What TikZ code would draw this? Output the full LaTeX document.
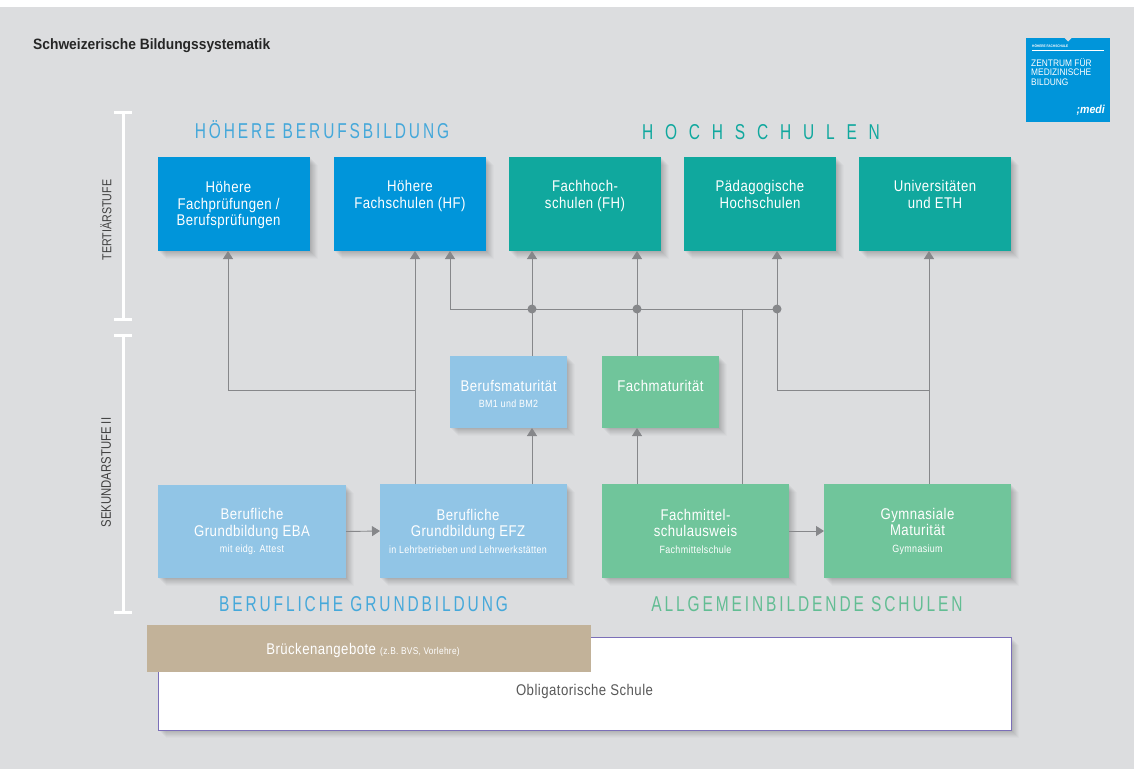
\documentclass[tikz,border=0pt]{standalone}
\usepackage{fontspec}
\usetikzlibrary{shadows,arrows.meta,calc}
\setmainfont{Liberation Sans}[FakeStretch=0.85,LetterSpace=3]
\newfontfamily\widefont{Liberation Sans}[FakeStretch=0.72,LetterSpace=13.5]
\newfontfamily\hochfont{Liberation Sans}[FakeStretch=0.72,LetterSpace=55]
\newfontfamily\boldfont{Liberation Sans Bold}[FakeStretch=0.92]
\newfontfamily\logofont{Liberation Sans}[FakeStretch=0.88]
\newfontfamily\sidefont{Liberation Sans}[FakeStretch=0.82]
\definecolor{bgc}{HTML}{DCDDDF}
\definecolor{blu}{HTML}{0095DA}
\definecolor{tea}{HTML}{10A89E}
\definecolor{lbl}{HTML}{91C5E6}
\definecolor{grn}{HTML}{70C59B}
\definecolor{tan}{HTML}{C2B299}
\definecolor{lin}{HTML}{86878A}
\definecolor{pur}{HTML}{7B6FB8}
\definecolor{ttl}{HTML}{45A8DA}
\definecolor{gtl}{HTML}{62BD93}
\tikzset{
 softshadow/.style={
  general shadow={fill=black,opacity=.03,shadow xshift=1pt,shadow yshift=-1pt},
  general shadow={fill=black,opacity=.03,shadow xshift=2pt,shadow yshift=-2pt},
  general shadow={fill=black,opacity=.03,shadow xshift=3pt,shadow yshift=-3pt},
  general shadow={fill=black,opacity=.03,shadow xshift=4pt,shadow yshift=-4pt},
  general shadow={fill=black,opacity=.03,shadow xshift=5pt,shadow yshift=-5pt},
  general shadow={fill=black,opacity=.025,shadow xshift=6pt,shadow yshift=-6pt},
  general shadow={fill=black,opacity=.02,shadow xshift=7pt,shadow yshift=-7pt},
  general shadow={fill=black,opacity=.015,shadow xshift=8pt,shadow yshift=-8pt}},
 box/.style={rectangle,outer sep=0pt,inner sep=0pt,align=center,text=white,
   softshadow,font=\fontsize{15.5}{16.5}\selectfont},
 conn/.style={draw=lin,line width=.9pt},
 arr/.style={conn,-{Triangle[length=8pt,width=10pt]}},
 dotn/.style={circle,fill=lin,inner sep=0pt,minimum size=9pt,outer sep=0pt},
 bar/.style={draw=white,line width=3pt},
 title/.style={inner sep=0pt,font=\widefont\fontsize{21.5}{24}\selectfont},
 side/.style={rotate=90,inner sep=0pt,text=black!75,font=\sidefont\fontsize{13}{15}\selectfont},
}
\newcommand{\sm}[1]{{\fontsize{10.5}{16.5}\selectfont #1}}
\newcommand{\up}{\rule{0pt}{13.5pt}}
\newcommand{\lf}[1]{\hspace*{-#1}}
\begin{document}
\begin{tikzpicture}[x=1pt,y=-1pt]
\useasboundingbox (0,0) rectangle (1134,769);
\fill[white] (0,0) rectangle (1134,769);
\fill[bgc] (0,7) rectangle (1134,769);
\node[anchor=west,inner sep=0pt,text=black!85,font=\boldfont\fontsize{15}{17}\selectfont] (head) at (33,45.5) {Schweizerische Bildungssystematik};
% logo
\node[rectangle,fill=blu,outer sep=0pt,inner sep=0pt,minimum width=84pt,minimum height=84pt] (logo) at (1068,80) {};
\fill[bgc] (1064.5,38) -- (1071.5,38) -- (1068,41.5) -- cycle;
\draw[white,line width=.8pt] (1032,50) -- (1104,50);
\node[anchor=west,inner sep=0pt,text=white,font=\logofont\bfseries\fontsize{3.6}{4}\selectfont] (lg1) at (1032,46) {HÖHERE FACHSCHULE};
\node[anchor=north west,inner sep=0pt,align=left,text=white,font=\logofont\fontsize{9.5}{9.5}\selectfont] (lg2) at (1031,58) {ZENTRUM FÜR\\MEDIZINISCHE\\BILDUNG};
\node[anchor=east,inner sep=0pt,text=white,font=\boldfont\itshape\fontsize{11.5}{13}\selectfont] (lg3) at (1105,110) {;medi};
% side bars
\coordinate (t1) at (123,112); \coordinate (t2) at (123,319);
\coordinate (s1) at (123,335); \coordinate (s2) at (123,612);
\draw[bar] (t1) -- (t2);
\draw[bar] (s1) -- (s2);
\foreach \p in {t1,t2,s1,s2} \draw[bar] ($(\p)+(-9,0)$) -- ($(\p)+(9,0)$);
\node[side] (ter) at (106,220) {TERTIÄRSTUFE};
\node[side,font=\sidefont\fontsize{13.8}{15}\selectfont] (sek) at (106,472.5) {SEKUNDARSTUFE II};
% titles
\node[title,text=ttl] (th) at (322,130) {HÖHERE BERUFSBILDUNG};
\node[title,text=tea] (tc) at (761,132) {\hochfont HOCHSCHULEN};
\node[title,text=ttl] (tb) at (363.5,604.5) {BERUFLICHE GRUNDBILDUNG};
\node[title,text=gtl] (ta) at (807,604) {ALLGEMEINBILDENDE SCHULEN};
% boxes
\node[box,fill=blu,minimum width=152pt,minimum height=94pt] (hfp) at (234,204) {\up\lf{11pt}Höhere\\\lf{11pt}Fachprüfungen /\\\lf{11pt}Berufsprüfungen};
\node[box,fill=blu,minimum width=152pt,minimum height=94pt] (hfs) at (410,204) {\up Höhere\\Fachschulen (HF)\\\strut};
\node[box,fill=tea,minimum width=152pt,minimum height=94pt] (fh) at (585,204) {\up Fachhoch-\\schulen (FH)\\\strut};
\node[box,fill=tea,minimum width=152pt,minimum height=94pt] (ph) at (760,204) {\up Pädagogische\\Hochschulen\\\strut};
\node[box,fill=tea,minimum width=152pt,minimum height=94pt] (uni) at (935,204) {\up Universitäten\\und ETH\\\strut};
\node[box,fill=lbl,minimum width=117pt,minimum height=72pt] (bm) at (508.5,392) {\rule{0pt}{15.5pt}Berufsmaturität\\\sm{BM1 und BM2}};
\node[box,fill=grn,minimum width=117pt,minimum height=72pt] (fm) at (660.5,392) {\rule{0pt}{15.5pt}Fachmaturität\\\sm{\ }};
\node[box,fill=lbl,minimum width=188pt,minimum height=93pt] (eba) at (252,531.5) {Berufliche\\Grundbildung EBA\\\sm{mit eidg. Attest}};
\node[box,fill=lbl,minimum width=187pt,minimum height=94pt] (efz) at (473.5,531) {\lf{11pt}Berufliche\\\lf{11pt}Grundbildung EFZ\\\lf{11pt}\sm{in Lehrbetrieben und Lehrwerkstätten}};
\node[box,fill=grn,minimum width=187pt,minimum height=94pt] (fms) at (695.5,531) {Fachmittel-\\schulausweis\\\sm{Fachmittelschule}};
\node[box,fill=grn,minimum width=187pt,minimum height=94pt] (gym) at (917.5,531) {Gymnasiale\\Maturität\\\sm{Gymnasium}};
\node[box,fill=white,draw=pur,line width=1pt,text=black!65,minimum width=853pt,minimum height=93pt] (obl) at (584.5,683.5) {\raisebox{-11.5pt}[0pt][0pt]{Obligatorische Schule}};
\node[rectangle,fill=tan,outer sep=0pt,inner sep=0pt,text=white,minimum width=444pt,minimum height=47pt,font=\fontsize{15.5}{16}\selectfont] (bra) at (369,648.5) {\rule{0pt}{15pt}\lf{12pt}Brückenangebote {\fontsize{9.8}{10}\selectfont(z.B. BVS, Vorlehre)}};
% junctions
\coordinate (a1) at (228,390);
\coordinate (a2) at (415,390);
\coordinate (b0) at (450,309);
\node[dotn] (d1) at (532,309) {};
\node[dotn] (d2) at (637,309) {};
\coordinate (d3) at (742,309);
\node[dotn] (d4) at (777,309) {};
\coordinate (c1) at (777,390);
\coordinate (c2) at (929,390);
% connectors
\draw[arr] (efz.north -| a2) -- (hfs.south -| a2);
\draw[arr] (a2) -- (a1) -- (hfp.south -| a1);
\draw[arr] (d4) -- (b0) -- (hfs.south -| b0);
\draw[arr] (bm.north -| d1) -- (fh.south -| d1);
\draw[arr] (fm.north -| d2) -- (ph.south -| d2);
\draw[conn] (fms.north -| d3) -- (d3);
\draw[arr] (c2) -- (c1) -- (ph.south -| d4);
\draw[arr] (gym.north -| c2) -- (uni.south -| c2);
\draw[arr] (efz.north -| d1) -- (bm.south -| d1);
\draw[arr] (fms.north -| d2) -- (fm.south -| d2);
\draw[arr] (eba.east) -- (efz.west);
\draw[arr] (fms.east) -- (gym.west);
\end{tikzpicture}
\end{document}
